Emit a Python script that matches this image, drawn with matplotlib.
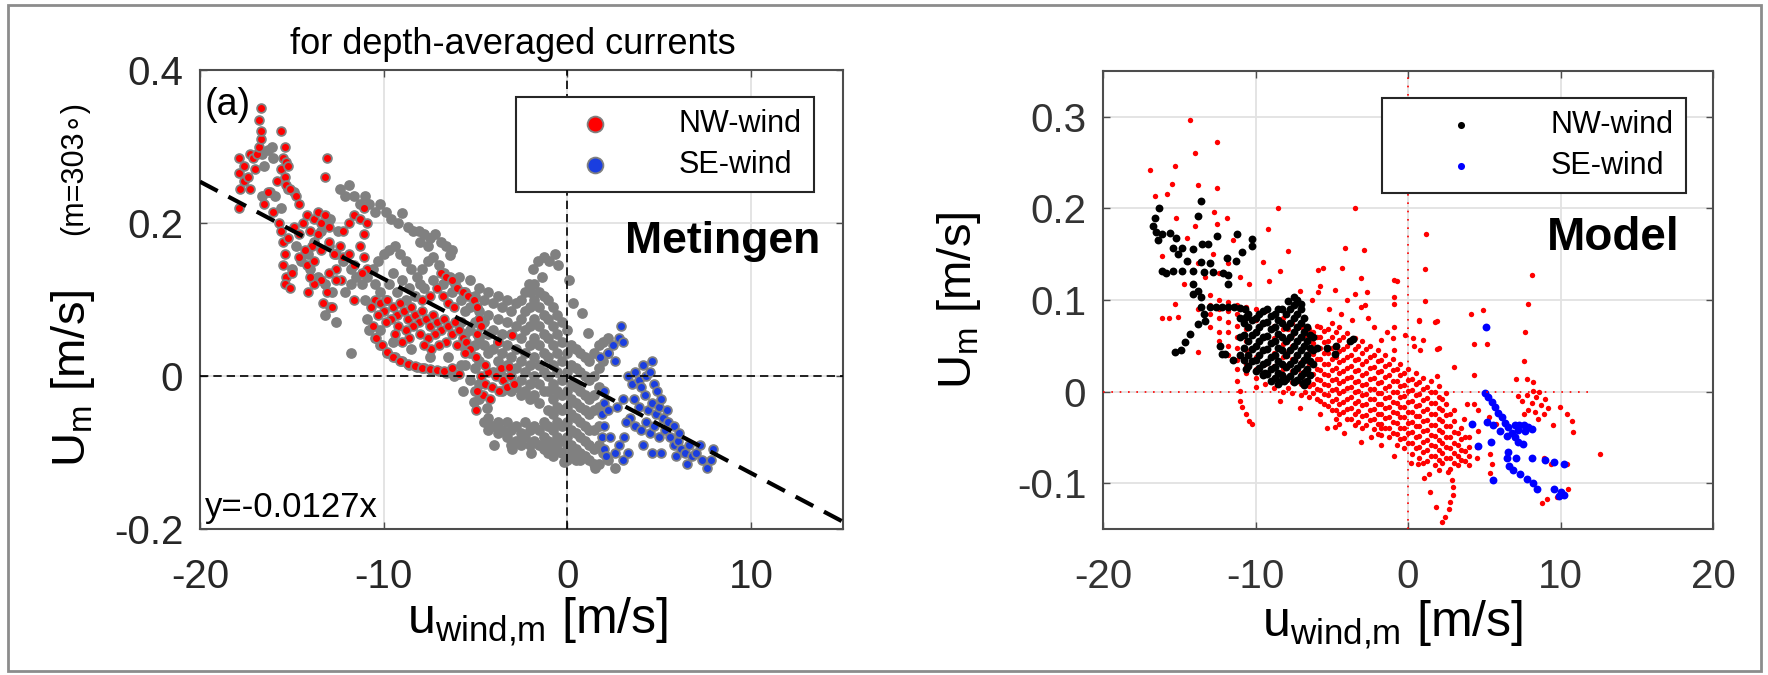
import numpy as np
import matplotlib
matplotlib.use('Agg')
import matplotlib.pyplot as plt
from matplotlib.patches import Rectangle

plt.rcParams['font.family'] = ['Liberation Sans', 'DejaVu Sans']
plt.rcParams['mathtext.default'] = 'regular'

W, H = 1768, 675

# ---------------- panel (a): measurements ----------------
# all measurements (grey), read off the picture
meas_grey = [
    (-16.6, 0.29), (-16.3, 0.295), (-16.1, 0.30), (-16.0, 0.285), (-16.5, 0.275), (-16.2, 0.24),
    (-15.9, 0.235), (-16.6, 0.235), (-15.6, 0.22), (-15.2, 0.245), (-14.9, 0.24),
    (-12.4, 0.245), (-12.1, 0.235), (-11.9, 0.25), (-11.6, 0.235), (-11.3, 0.225), (-11.0, 0.235),
    (-10.8, 0.225), (-10.5, 0.215), (-10.2, 0.225), (-9.9, 0.215), (-9.6, 0.205), (-9.2, 0.20),
    (-9.0, 0.213), (-8.7, 0.195), (-8.4, 0.19), (-8.1, 0.19), (-7.8, 0.185), (-7.5, 0.18),
    (-7.2, 0.185), (-6.9, 0.175), (-6.6, 0.17), (-6.3, 0.165), (-6.4, 0.158), (-8.0, 0.175), (-7.6, 0.17),
    (-13.0, 0.17), (-12.6, 0.16), (-12.2, 0.15), (-11.8, 0.14), (-11.5, 0.13), (-11.8, 0.12),
    (-12.1, 0.11), (-11.2, 0.12), (-10.9, 0.13), (-10.6, 0.14), (-10.3, 0.15), (-10.0, 0.16),
    (-9.7, 0.165), (-9.4, 0.17), (-9.1, 0.16), (-8.8, 0.15), (-8.5, 0.14), (-8.2, 0.13),
    (-7.9, 0.14), (-7.6, 0.15), (-7.3, 0.155), (-7.0, 0.145), (-6.7, 0.135), (-6.4, 0.13),
    (-6.1, 0.12), (-10.5, 0.12), (-10.2, 0.11), (-9.9, 0.10), (-11.0, 0.10), (-12.5, 0.19),
    (-12.9, 0.205), (-13.4, 0.19), (-13.8, 0.175), (-14.1, 0.16), (-14.5, 0.15), (-14.0, 0.14),
    (-13.6, 0.13), (-13.2, 0.12), (-12.8, 0.11), (-12.9, 0.09), (-13.2, 0.08), (-12.6, 0.07),
    (-11.8, 0.03), (-14.8, 0.17), (-15.0, 0.14), (-9.5, 0.135), (-9.0, 0.125), (-8.6, 0.115),
    (-9.3, 0.11), (-8.8, 0.10), (-8.3, 0.105), (-7.8, 0.115), (-7.3, 0.125), (-6.8, 0.12),
    (-6.3, 0.11), (-5.9, 0.13), (-8.0, 0.12), (-9.7, 0.12), (-9.5, 0.045), (-8.5, 0.035),
    (-7.5, 0.025), (-6.5, 0.025), (-5.8, 0.015), (-10.2, 0.06),
    (-10.8, 0.06), (-10.5, 0.05), (-10.2, 0.04), (-9.8, 0.03), (-9.4, 0.025), (-9.0, 0.02),
    (-8.6, 0.015), (-8.2, 0.012), (-7.8, 0.01), (-7.4, 0.008), (-7.0, 0.006), (-6.6, 0.004),
    (-6.2, 0.0), (-5.7, -0.02), (-5.1, -0.034), (-4.4, -0.042), (-10.9, 0.075),
    (-5.8, 0.10), (-5.8, 0.07), (-5.8, 0.04),
    (-5.55, 0.11), (-5.55, 0.085), (-5.55, 0.055), (-5.55, 0.015),
    (-5.3, 0.125), (-5.3, 0.09), (-5.3, 0.06), (-5.3, 0.03), (-5.3, -0.005),
    (-5.05, 0.105), (-5.05, 0.07), (-5.05, 0.04), (-5.05, 0.01), (-5.05, -0.02),
    (-4.8, 0.115), (-4.8, 0.085), (-4.8, 0.05), (-4.8, 0.02), (-4.8, -0.01), (-4.8, -0.03),
    (-4.55, 0.10), (-4.55, 0.07), (-4.55, 0.04), (-4.55, -0.06),
    (-4.3, 0.11), (-4.3, 0.08), (-4.3, 0.055), (-4.3, 0.03), (-4.3, -0.055), (-4.3, -0.07),
    (-4.05, 0.095), (-4.05, 0.06), (-4.05, 0.035), (-4.05, 0.005), (-4.05, -0.065),
    (-3.8, 0.105), (-3.8, 0.075), (-3.8, 0.045), (-3.8, 0.02), (-3.8, -0.06), (-3.8, -0.075),
    (-3.55, 0.09), (-3.55, 0.055), (-3.55, 0.03), (-3.55, 0.0), (-3.55, -0.02), (-3.55, -0.07),
    (-3.3, 0.10), (-3.3, 0.07), (-3.3, 0.04), (-3.3, 0.015), (-3.3, -0.06), (-3.3, -0.08),
    (-3.05, 0.085), (-3.05, 0.055), (-3.05, 0.025), (-3.05, 0.0), (-3.05, -0.02), (-3.05, -0.07),
    (-3.05, -0.09),
    (-2.8, 0.095), (-2.8, 0.065), (-2.8, 0.035), (-2.8, 0.01), (-2.8, -0.015), (-2.8, -0.065), (-2.8, -0.085),
    (-2.55, 0.10), (-2.55, 0.075), (-2.55, 0.05), (-2.55, 0.02), (-2.55, -0.005), (-2.55, -0.025),
    (-2.55, -0.075), (-2.55, -0.09),
    (-2.3, 0.11), (-2.3, 0.085), (-2.3, 0.06), (-2.3, 0.03), (-2.3, 0.005), (-2.3, -0.02), (-2.3, -0.06), (-2.3, -0.08),
    (-2.05, 0.11), (-2.05, 0.09), (-2.05, 0.065), (-2.05, 0.04), (-2.05, 0.015), (-2.05, -0.01),
    (-2.05, -0.03), (-2.05, -0.07), (-2.05, -0.09),
    (-1.8, 0.12), (-1.8, 0.10), (-1.8, 0.075), (-1.8, 0.05), (-1.8, 0.025), (-1.8, 0.0), (-1.8, -0.025),
    (-1.8, -0.065), (-1.8, -0.085),
    (-1.55, 0.11), (-1.55, 0.09), (-1.55, 0.065), (-1.55, 0.04), (-1.55, 0.015), (-1.55, -0.01),
    (-1.55, -0.035), (-1.55, -0.07), (-1.55, -0.09),
    (-1.3, 0.105), (-1.3, 0.08), (-1.3, 0.055), (-1.3, 0.03), (-1.3, 0.005), (-1.3, -0.02), (-1.3, -0.06),
    (-1.3, -0.08), (-1.3, -0.095),
    (-1.05, 0.10), (-1.05, 0.075), (-1.05, 0.05), (-1.05, 0.025), (-1.05, 0.0), (-1.05, -0.02),
    (-1.05, -0.045), (-1.05, -0.065), (-1.05, -0.085), (-1.05, -0.10),
    (-0.8, 0.09), (-0.8, 0.065), (-0.8, 0.04), (-0.8, 0.015), (-0.8, -0.01), (-0.8, -0.03), (-0.8, -0.05),
    (-0.8, -0.07), (-0.8, -0.09), (-0.8, -0.105),
    (-0.55, 0.08), (-0.55, 0.055), (-0.55, 0.03), (-0.55, 0.005), (-0.55, -0.02), (-0.55, -0.04),
    (-0.55, -0.06), (-0.55, -0.08), (-0.55, -0.095),
    (-0.3, 0.07), (-0.3, 0.045), (-0.3, 0.02), (-0.3, -0.005), (-0.3, -0.025), (-0.3, -0.045), (-0.3, -0.065),
    (-0.3, -0.085), (-0.3, -0.10),
    (-0.05, 0.06), (-0.05, 0.03), (-0.05, 0.005), (-0.05, -0.02), (-0.05, -0.04), (-0.05, -0.06),
    (-0.05, -0.08), (-0.05, -0.095), (-0.05, -0.11),
    (0.2, 0.04), (0.2, 0.015), (0.2, -0.01), (0.2, -0.03), (0.2, -0.05), (0.2, -0.07), (0.2, -0.09), (0.2, -0.105),
    (0.45, 0.035), (0.45, 0.01), (0.45, -0.015), (0.45, -0.035), (0.45, -0.055), (0.45, -0.075),
    (0.45, -0.095), (0.45, -0.11),
    (0.7, 0.03), (0.7, 0.005), (0.7, -0.02), (0.7, -0.04), (0.7, -0.06), (0.7, -0.08), (0.7, -0.10), (0.7, -0.11),
    (0.95, 0.025), (0.95, 0.0), (0.95, -0.025), (0.95, -0.045), (0.95, -0.065), (0.95, -0.085), (0.95, -0.105),
    (1.2, 0.02), (1.2, -0.005), (1.2, -0.03), (1.2, -0.05), (1.2, -0.07), (1.2, -0.09), (1.2, -0.11),
    (1.45, 0.03), (1.45, 0.0), (1.45, -0.025), (1.45, -0.045), (1.45, -0.07), (1.45, -0.095), (1.45, -0.115),
    (1.7, 0.04), (1.7, 0.01), (1.7, -0.015), (1.7, -0.04), (1.7, -0.065), (1.7, -0.09), (1.7, -0.115),
    (1.95, 0.045), (1.95, 0.02), (1.95, -0.10),
    (2.2, 0.05), (2.2, 0.03), (2.2, -0.11), (2.6, -0.12),
    (-2.1, 0.12), (-1.9, 0.14), (-1.6, 0.15), (-1.3, 0.155), (-1.0, 0.15), (-0.7, 0.16), (-0.5, 0.145),
    (-1.4, 0.13), (0.1, 0.125), (0.3, 0.095), (0.8, 0.082), (1.1, 0.056),
    (-4.0, -0.09), (-3.0, -0.095), (-2.0, -0.1), (-0.2, -0.112), (1.5, -0.12),
]

# NW-wind subset (red)
meas_nw = [
    (-17.9, 0.285), (-17.9, 0.265), (-17.8, 0.245), (-17.9, 0.22), (-17.6, 0.255), (-17.4, 0.26),
    (-17.3, 0.29), (-17.1, 0.285), (-16.9, 0.29), (-16.8, 0.30), (-16.7, 0.31), (-16.7, 0.32),
    (-16.8, 0.335), (-16.7, 0.35), (-17.3, 0.245), (-17.6, 0.275), (-17.0, 0.27), (-15.6, 0.32),
    (-15.4, 0.30), (-15.5, 0.285), (-15.3, 0.28), (-15.6, 0.27), (-15.2, 0.275), (-15.4, 0.26),
    (-15.3, 0.25), (-15.1, 0.245), (-14.8, 0.235), (-14.6, 0.225), (-15.8, 0.255), (-16.3, 0.24),
    (-16.0, 0.215), (-15.7, 0.20), (-16.5, 0.225), (-13.1, 0.285), (-13.2, 0.26),
    (-15.6, 0.19), (-15.5, 0.175), (-15.4, 0.16), (-15.5, 0.145), (-15.3, 0.13), (-15.4, 0.12),
    (-15.1, 0.115), (-15.0, 0.135), (-15.2, 0.18), (-14.9, 0.195), (-14.6, 0.185), (-14.4, 0.20),
    (-14.2, 0.21), (-14.0, 0.19), (-13.8, 0.205), (-13.6, 0.215), (-13.4, 0.20), (-13.2, 0.21),
    (-13.0, 0.195), (-13.6, 0.185), (-13.9, 0.17), (-14.3, 0.165), (-14.6, 0.155), (-14.2, 0.145),
    (-13.8, 0.15), (-13.4, 0.165), (-13.0, 0.175), (-12.7, 0.16), (-12.4, 0.17), (-12.2, 0.155),
    (-12.6, 0.14), (-13.0, 0.135), (-13.4, 0.125), (-13.8, 0.12), (-14.1, 0.11), (-14.0, 0.13),
    (-12.2, 0.19), (-11.9, 0.20), (-11.6, 0.21), (-11.3, 0.205), (-11.1, 0.22), (-10.9, 0.20),
    (-11.1, 0.185), (-11.3, 0.17), (-11.1, 0.155), (-10.9, 0.14), (-11.2, 0.135), (-11.6, 0.145),
    (-11.9, 0.16), (-12.3, 0.125), (-13.3, 0.095), (-13.1, 0.11), (-12.8, 0.09), (-11.6, 0.10), (-12.6, 0.125),
    (-10.5, 0.10), (-10.2, 0.095), (-10.0, 0.085), (-9.8, 0.10), (-9.5, 0.09), (-9.3, 0.08),
    (-9.6, 0.075), (-9.9, 0.07), (-9.1, 0.095), (-8.9, 0.085), (-8.7, 0.075), (-8.5, 0.09),
    (-8.3, 0.08), (-8.1, 0.07), (-8.4, 0.065), (-8.8, 0.06), (-9.2, 0.065), (-7.9, 0.085),
    (-7.7, 0.075), (-7.5, 0.065), (-7.3, 0.08), (-7.1, 0.07), (-6.9, 0.06), (-7.2, 0.055),
    (-7.6, 0.05), (-8.0, 0.055), (-6.7, 0.075), (-6.5, 0.065), (-6.3, 0.055), (-6.6, 0.045),
    (-7.0, 0.04), (-7.4, 0.035), (-6.1, 0.07), (-5.9, 0.06), (-5.7, 0.05), (-6.0, 0.04),
    (-5.5, 0.045), (-5.3, 0.035), (-5.6, 0.03), (-7.8, 0.04), (-8.6, 0.05), (-9.0, 0.045),
    (-10.3, 0.08), (-10.7, 0.09), (-9.4, 0.055), (-7.9, 0.10), (-7.5, 0.105), (-7.1, 0.115),
    (-6.8, 0.105), (-6.5, 0.095), (-6.2, 0.09), (-5.0, 0.025),
    (-10.6, 0.065), (-10.4, 0.05), (-10.1, 0.04), (-9.8, 0.032), (-9.5, 0.025), (-9.1, 0.02),
    (-8.7, 0.016), (-8.3, 0.013), (-7.9, 0.011), (-7.5, 0.009), (-7.1, 0.008), (-6.7, 0.006),
    (-6.3, 0.01), (-5.9, 0.002),
    (-6.9, 0.135), (-6.6, 0.13), (-6.3, 0.125), (-6.0, 0.115), (-5.7, 0.11), (-5.4, 0.105),
    (-5.1, 0.10), (-4.9, 0.09), (-4.8, 0.075), (-4.7, 0.065), (-4.9, 0.055), (-3.0, 0.053), (-3.8, 0.044),
    (-4.7, 0.0), (-4.5, -0.01), (-4.3, 0.005), (-4.1, -0.015), (-3.9, 0.0), (-3.7, -0.02),
    (-3.5, -0.005), (-3.3, -0.015), (-3.1, 0.0), (-2.9, -0.01), (-4.6, -0.025), (-4.2, -0.03),
    (-3.6, 0.01), (-3.2, 0.012), (-4.9, -0.02), (-5.0, -0.045), (-4.5, 0.015),
]

# SE-wind subset (blue)
meas_se = [
    (2.0, -0.02), (2.0, -0.035), (1.9, -0.05), (2.0, -0.065), (1.9, -0.08), (2.0, -0.095),
    (2.1, -0.105), (2.2, -0.045), (2.3, -0.08), (1.8, 0.025), (2.2, 0.03), (2.5, 0.04),
    (2.8, 0.05), (2.9, 0.065), (3.0, 0.045), (2.6, 0.02), (3.3, 0.0), (3.5, -0.01),
    (3.7, 0.005), (3.9, -0.005), (4.1, 0.015), (4.3, 0.0), (4.5, 0.005), (4.7, -0.01),
    (4.9, -0.02), (3.6, -0.03), (3.9, -0.04), (4.2, -0.025), (4.4, -0.045), (4.6, -0.035),
    (4.8, -0.05), (5.0, -0.04), (5.2, -0.055), (5.4, -0.045), (3.4, -0.055), (3.7, -0.065),
    (4.0, -0.07), (4.3, -0.06), (4.5, -0.075), (4.7, -0.065), (5.0, -0.08), (5.3, -0.07),
    (5.6, -0.08), (5.8, -0.09), (6.0, -0.085), (6.2, -0.095), (6.4, -0.10), (6.6, -0.09),
    (6.8, -0.105), (7.0, -0.10), (7.3, -0.11), (7.6, -0.12), (7.8, -0.11), (7.9, -0.095),
    (3.1, -0.08), (3.3, -0.10), (3.0, -0.11), (2.6, -0.10), (2.8, -0.09), (4.1, -0.09),
    (4.6, -0.10), (5.1, -0.10), (5.5, -0.06), (5.8, -0.065), (6.1, -0.075), (4.0, -0.015),
    (4.6, 0.02), (5.1, -0.03), (3.0, -0.03), (2.7, -0.04), (3.2, -0.06), (6.5, -0.115),
    (7.2, -0.09), (5.9, -0.105),
]

fit_slope = -0.0127
fit_range = [-20, 15]
meas_xticks = [-20, -10, 0, 10]
meas_xticklabels = ['-20', '-10', '0', '10']
meas_yticks = [-0.2, 0, 0.2, 0.4]
meas_yticklabels = ['-0.2', '0', '0.2', '0.4']

# ---------------- panel (b): model ----------------
# all model points (red)
model_all = [
    (-13.0, 0.105), (-13.0, 0.095), (-13.0, 0.085), (-13.0, 0.07),
    (-12.4, 0.10), (-12.4, 0.09), (-12.4, 0.08), (-12.4, 0.065), (-12.4, 0.055),
    (-11.8, 0.098), (-11.8, 0.088), (-11.8, 0.076), (-11.8, 0.065), (-11.8, 0.05), (-11.8, 0.04),
    (-11.2, 0.095), (-11.2, 0.085), (-11.2, 0.072), (-11.2, 0.06), (-11.2, 0.048), (-11.2, 0.035), (-11.2, 0.025),
    (-10.6, 0.092), (-10.6, 0.08), (-10.6, 0.068), (-10.6, 0.055), (-10.6, 0.045), (-10.6, 0.03), (-10.6, 0.02),
    (-10.0, 0.09), (-10.0, 0.078), (-10.0, 0.065), (-10.0, 0.05), (-10.0, 0.038), (-10.0, 0.025), (-10.0, 0.015),
    (-10.0, 0.005),
    (-9.4, 0.088), (-9.4, 0.075), (-9.4, 0.06), (-9.4, 0.045), (-9.4, 0.03), (-9.4, 0.018), (-9.4, 0.008),
    (-8.8, 0.085), (-8.8, 0.072), (-8.8, 0.058), (-8.8, 0.042), (-8.8, 0.028), (-8.8, 0.015), (-8.8, 0.004),
    (-8.2, 0.08), (-8.2, 0.068), (-8.2, 0.052), (-8.2, 0.038), (-8.2, 0.025), (-8.2, 0.012), (-8.2, 0.0),
    (-7.85, 0.068), (-7.85, 0.056), (-7.85, 0.043), (-7.85, 0.029), (-7.85, 0.016), (-7.85, 0.004),
    (-7.6, 0.075), (-7.6, 0.062), (-7.6, 0.05), (-7.6, 0.036), (-7.6, 0.022), (-7.6, 0.01), (-7.6, -0.002),
    (-7.0, 0.07), (-7.0, 0.058), (-7.0, 0.045), (-7.0, 0.032), (-7.0, 0.02), (-7.0, 0.008), (-7.0, -0.004),
    (-6.75, 0.062), (-6.75, 0.05), (-6.75, 0.037), (-6.75, 0.024), (-6.75, 0.012), (-6.75, 0.0),
    (-6.5, 0.068), (-6.5, 0.055), (-6.5, 0.042), (-6.5, 0.03), (-6.5, 0.018), (-6.5, 0.006), (-6.5, -0.006),
    (-6.25, 0.065), (-6.25, 0.053), (-6.25, 0.041), (-6.25, 0.03), (-6.25, 0.019), (-6.25, 0.008),
    (-6.25, -0.002),
    (-6.0, 0.072), (-6.0, 0.06), (-6.0, 0.048), (-6.0, 0.036), (-6.0, 0.025), (-6.0, 0.014), (-6.0, 0.003),
    (-6.0, -0.008),
    (-5.75, 0.07), (-5.75, 0.06), (-5.75, 0.048), (-5.75, 0.036), (-5.75, 0.024), (-5.75, 0.013),
    (-5.75, 0.002), (-5.75, -0.01),
    (-5.5, 0.066), (-5.5, 0.054), (-5.5, 0.042), (-5.5, 0.03), (-5.5, 0.019), (-5.5, 0.008), (-5.5, -0.003),
    (-5.5, -0.014),
    (-5.25, 0.068), (-5.25, 0.055), (-5.25, 0.042), (-5.25, 0.03), (-5.25, 0.018), (-5.25, 0.007),
    (-5.25, -0.004), (-5.25, -0.016),
    (-5.0, 0.075), (-5.0, 0.06), (-5.0, 0.048), (-5.0, 0.036), (-5.0, 0.024), (-5.0, 0.013), (-5.0, 0.002),
    (-5.0, -0.01), (-5.0, -0.02),
    (-4.75, 0.065), (-4.75, 0.05), (-4.75, 0.038), (-4.75, 0.026), (-4.75, 0.014), (-4.75, 0.003),
    (-4.75, -0.008), (-4.75, -0.02), (-4.75, -0.03),
    (-4.5, 0.07), (-4.5, 0.056), (-4.5, 0.044), (-4.5, 0.032), (-4.5, 0.02), (-4.5, 0.009), (-4.5, -0.002),
    (-4.5, -0.014), (-4.5, -0.025), (-4.5, -0.035),
    (-4.25, 0.06), (-4.25, 0.047), (-4.25, 0.035), (-4.25, 0.023), (-4.25, 0.012), (-4.25, 0.001),
    (-4.25, -0.011), (-4.25, -0.022),
    (-4.0, 0.064), (-4.0, 0.05), (-4.0, 0.038), (-4.0, 0.026), (-4.0, 0.015), (-4.0, 0.004), (-4.0, -0.008),
    (-4.0, -0.019), (-4.0, -0.03),
    (-3.75, 0.055), (-3.75, 0.04), (-3.75, 0.028), (-3.75, 0.016), (-3.75, 0.005), (-3.75, -0.006),
    (-3.75, -0.018), (-3.75, -0.03),
    (-3.5, 0.058), (-3.5, 0.046), (-3.5, 0.034), (-3.5, 0.022), (-3.5, 0.011), (-3.5, 0.0), (-3.5, -0.012),
    (-3.5, -0.024), (-3.5, -0.036),
    (-3.25, 0.05), (-3.25, 0.036), (-3.25, 0.024), (-3.25, 0.012), (-3.25, 0.001), (-3.25, -0.01),
    (-3.25, -0.021), (-3.25, -0.033),
    (-3.0, 0.055), (-3.0, 0.042), (-3.0, 0.03), (-3.0, 0.018), (-3.0, 0.007), (-3.0, -0.004), (-3.0, -0.015),
    (-3.0, -0.027), (-3.0, -0.04),
    (-2.75, 0.046), (-2.75, 0.033), (-2.75, 0.02), (-2.75, 0.008), (-2.75, -0.003), (-2.75, -0.014),
    (-2.75, -0.026), (-2.75, -0.037),
    (-2.5, 0.05), (-2.5, 0.038), (-2.5, 0.026), (-2.5, 0.014), (-2.5, 0.003), (-2.5, -0.008), (-2.5, -0.02),
    (-2.5, -0.031),
    (-2.25, 0.04), (-2.25, 0.027), (-2.25, 0.015), (-2.25, 0.003), (-2.25, -0.008), (-2.25, -0.019),
    (-2.25, -0.03), (-2.25, -0.041),
    (-2.0, 0.045), (-2.0, 0.033), (-2.0, 0.021), (-2.0, 0.009), (-2.0, -0.002), (-2.0, -0.013), (-2.0, -0.024),
    (-2.0, -0.035), (-2.0, -0.046),
    (-1.75, 0.035), (-1.75, 0.022), (-1.75, 0.01), (-1.75, -0.002), (-1.75, -0.013), (-1.75, -0.024),
    (-1.75, -0.035), (-1.75, -0.047),
    (-1.5, 0.04), (-1.5, 0.028), (-1.5, 0.016), (-1.5, 0.004), (-1.5, -0.007), (-1.5, -0.018), (-1.5, -0.029),
    (-1.5, -0.04),
    (-1.25, 0.03), (-1.25, 0.018), (-1.25, 0.006), (-1.25, -0.006), (-1.25, -0.017), (-1.25, -0.028),
    (-1.25, -0.04), (-1.25, -0.05),
    (-1.0, 0.036), (-1.0, 0.024), (-1.0, 0.012), (-1.0, 0.0), (-1.0, -0.011), (-1.0, -0.022), (-1.0, -0.033),
    (-1.0, -0.045),
    (-0.75, 0.025), (-0.75, 0.012), (-0.75, 0.0), (-0.75, -0.012), (-0.75, -0.023), (-0.75, -0.034),
    (-0.75, -0.046), (-0.75, -0.058),
    (-0.5, 0.03), (-0.5, 0.018), (-0.5, 0.006), (-0.5, -0.006), (-0.5, -0.017), (-0.5, -0.028), (-0.5, -0.04),
    (-0.5, -0.052),
    (-0.25, 0.02), (-0.25, 0.007), (-0.25, -0.005), (-0.25, -0.017), (-0.25, -0.028), (-0.25, -0.04),
    (-0.25, -0.051), (-0.25, -0.062),
    (0.0, 0.025), (0.0, 0.013), (0.0, 0.001), (0.0, -0.011), (0.0, -0.022), (0.0, -0.034), (0.0, -0.045),
    (0.0, -0.056),
    (0.25, 0.014), (0.25, 0.002), (0.25, -0.01), (0.25, -0.022), (0.25, -0.033), (0.25, -0.044),
    (0.25, -0.056), (0.25, -0.068),
    (0.5, 0.02), (0.5, 0.008), (0.5, -0.004), (0.5, -0.016), (0.5, -0.027), (0.5, -0.038), (0.5, -0.05),
    (0.5, -0.062),
    (0.75, 0.01), (0.75, -0.003), (0.75, -0.015), (0.75, -0.027), (0.75, -0.038), (0.75, -0.049),
    (0.75, -0.06), (0.75, -0.072),
    (1.0, 0.015), (1.0, 0.003), (1.0, -0.009), (1.0, -0.021), (1.0, -0.032), (1.0, -0.043), (1.0, -0.055),
    (1.0, -0.066), (1.0, -0.078),
    (1.25, 0.005), (1.25, -0.007), (1.25, -0.019), (1.25, -0.031), (1.25, -0.042), (1.25, -0.053),
    (1.25, -0.064), (1.25, -0.076),
    (1.5, 0.012), (1.5, 0.0), (1.5, -0.012), (1.5, -0.024), (1.5, -0.036), (1.5, -0.047), (1.5, -0.058),
    (1.5, -0.07),
    (1.75, 0.0), (1.75, -0.012), (1.75, -0.024), (1.75, -0.036), (1.75, -0.048), (1.75, -0.059),
    (1.75, -0.07), (1.75, -0.08),
    (2.0, 0.006), (2.0, -0.006), (2.0, -0.018), (2.0, -0.03), (2.0, -0.042), (2.0, -0.053), (2.0, -0.064),
    (2.0, -0.075), (2.0, -0.086),
    (2.25, -0.008), (2.25, -0.02), (2.25, -0.032), (2.25, -0.044), (2.25, -0.056), (2.25, -0.067),
    (2.25, -0.078),
    (2.5, -0.002), (2.5, -0.014), (2.5, -0.026), (2.5, -0.038), (2.5, -0.05), (2.5, -0.061), (2.5, -0.072),
    (2.75, -0.025), (2.75, -0.038), (2.75, -0.05), (2.75, -0.062), (2.75, -0.073), (2.75, -0.084),
    (3.0, -0.02), (3.0, -0.032), (3.0, -0.044), (3.0, -0.056), (3.0, -0.067), (3.0, -0.078),
    (3.25, -0.045), (3.25, -0.058), (3.25, -0.07), (3.25, -0.08),
    (3.5, -0.04), (3.5, -0.052), (3.5, -0.064), (3.5, -0.075),
    (3.75, -0.05), (3.75, -0.065), (3.75, -0.076),
    (4.0, -0.05), (4.0, -0.06), (4.0, -0.07), (4.0, -0.08), (4.5, -0.06), (4.5, -0.072),
    # scattered points
    (-14.3, 0.296), (-12.5, 0.272), (-14.0, 0.26), (-16.9, 0.242), (-15.3, 0.246), (-15.5, 0.227),
    (-13.8, 0.226), (-12.5, 0.222), (-16.6, 0.214), (-15.8, 0.216), (-8.5, 0.20), (-12.7, 0.196),
    (-15.2, 0.19), (-11.9, 0.189), (-12.5, 0.183), (-14.0, 0.181), (-9.2, 0.178), (-4.1, 0.157),
    (-7.9, 0.153), (-11.5, 0.165), (-9.5, 0.142), (-8.4, 0.132), (-5.6, 0.135), (-4.3, 0.135),
    (-9.1, 0.121), (-7.1, 0.11), (-5.9, 0.109), (-4.8, 0.111), (-14.5, 0.168), (-16.1, 0.148),
    (-14.4, 0.141), (-3.5, 0.20), (-2.9, 0.155), (-3.1, 0.124), (-0.9, 0.122), (-3.5, 0.107),
    (-2.7, 0.109), (-0.9, 0.096), (-3.1, 0.092), (-2.6, 0.08), (0.7, 0.077), (1.9, 0.077),
    (1.1, 0.099), (1.2, 0.172), (1.1, 0.134), (-1.0, 0.059), (-0.9, 0.045), (0.3, 0.058),
    (0.8, 0.045), (2.0, 0.048), (1.9, 0.017), (-1.8, 0.056), (-15.3, 0.096), (-15.1, 0.081),
    (-13.8, 0.043), (-13.8, 0.09), (-11.0, 0.001), (-11.0, -0.01), (-10.9, -0.017), (-10.6, -0.024),
    (-10.4, -0.032), (-10.2, -0.035), (-11.2, 0.012),
    (8.1, 0.127), (7.9, 0.096), (7.7, 0.065), (7.6, 0.033), (7.1, 0.014), (7.8, 0.014), (8.2, 0.01),
    (8.2, 0.001), (4.1, 0.085), (4.9, 0.089), (5.2, 0.052), (4.3, 0.052), (4.3, 0.018), (1.9, 0.047),
    (1.8, 0.076), (3.0, 0.027), (-0.9, 0.071), (-0.9, 0.103), (0.7, 0.078), (1.0, 0.056),
    (2.64, -0.088), (2.87, -0.097), (2.97, -0.104), (2.93, -0.113), (2.75, -0.121), (2.71, -0.128),
    (2.43, -0.137), (2.25, -0.142), (1.44, -0.11), (1.84, -0.126), (1.05, -0.094), (0.66, -0.079),
    (9.97, -0.017), (10.4, -0.024), (10.75, -0.032), (10.8, -0.044), (9.5, -0.037), (12.6, -0.068),
    (8.8, -0.122), (9.1, -0.117), (9.8, -0.115), (10.4, -0.079), (10.5, -0.106),
    (3.7, -0.03), (4.6, -0.043), (5.4, -0.068), (5.5, -0.079), (5.4, -0.089), (4.3, -0.013),
    (8.9, -0.073), (9.4, -0.079), (3.9, -0.013), (4.6, -0.02), (5.3, -0.028), (5.8, -0.035),
    (7.2, -0.005), (7.5, -0.01), (7.8, -0.004), (8.1, -0.012), (8.4, -0.006), (8.7, -0.015),
    (8.3, -0.022), (8.9, -0.025), (8.6, 0.0), (9.0, -0.008), (7.9, -0.02), (8.5, -0.03),
    (7.6, -0.025), (9.2, -0.018),
    (-5.2, 0.09), (-4.4, 0.085), (-3.7, 0.078), (-2.2, 0.07), (-1.4, 0.065), (-0.2, 0.062),
    (0.4, 0.05), (-2.8, 0.095), (-6.3, 0.10), (-5.8, 0.115), (-4.0, 0.10),
    (-8.4, -0.01), (-7.1, -0.018), (-5.8, -0.025), (-4.2, -0.045), (-3.1, -0.055), (-1.8, -0.058),
    (-0.9, -0.07), (0.2, -0.078), (1.4, -0.09), (-5.3, -0.04), (-2.4, -0.05), (-4.8, -0.039),
    (-1.8, -0.04), (-0.7, 0.121), (-5.9, 0.133),
    (-13.3, 0.125), (-12.4, 0.13), (-11.8, 0.14), (-11.0, 0.125), (-10.4, 0.118), (-12.8, 0.15),
    (-13.8, 0.14), (-14.7, 0.117), (-15.7, 0.08), (-16.1, 0.08),
]

# NW-wind subset (black)
model_nw = [
    (-13.6, 0.208), (-16.3, 0.20), (-16.6, 0.189), (-16.7, 0.181), (-16.5, 0.174), (-16.4, 0.165),
    (-13.8, 0.192), (-16.1, 0.172), (-15.6, 0.173), (-15.2, 0.168), (-15.4, 0.157), (-15.1, 0.15),
    (-14.8, 0.157), (-14.5, 0.143), (-14.1, 0.156), (-13.5, 0.161), (-13.1, 0.161), (-12.5, 0.17),
    (-11.2, 0.172), (-10.2, 0.167), (-10.2, 0.159), (-10.9, 0.152), (-11.3, 0.143), (-11.9, 0.146),
    (-13.0, 0.14), (-13.6, 0.141), (-16.1, 0.132), (-15.9, 0.129), (-15.4, 0.132), (-14.8, 0.132),
    (-14.1, 0.132), (-13.4, 0.131), (-12.8, 0.131), (-12.1, 0.13), (-11.8, 0.127), (-11.8, 0.118),
    (-14.1, 0.118), (-13.8, 0.11), (-13.6, 0.103), (-7.5, 0.103),
    (-14.1, 0.107), (-13.6, 0.092), (-13.4, 0.085), (-13.0, 0.092), (-12.6, 0.092), (-12.2, 0.092),
    (-11.8, 0.092), (-11.4, 0.092), (-11.0, 0.091), (-10.7, 0.09),
    (-13.8, 0.074), (-14.3, 0.063), (-14.6, 0.054), (-14.9, 0.045), (-15.3, 0.043), (-13.3, 0.077),
    (-12.3, 0.05), (-12.2, 0.041), (-12.0, 0.041), (-11.5, 0.034), (-10.6, 0.025), (-9.5, 0.019),
    (-8.3, 0.012), (-6.9, 0.009),
    (-6.0, 0.048), (-5.3, 0.048), (-4.7, 0.05), (-3.8, 0.055), (-3.6, 0.057), (-4.8, 0.041),
    (-7.0, 0.096), (-7.9, 0.099), (-10.6, 0.081),
    (-11.0, 0.08), (-11.0, 0.06), (-11.0, 0.04),
    (-10.75, 0.075), (-10.75, 0.062), (-10.75, 0.048), (-10.75, 0.035),
    (-10.5, 0.085), (-10.5, 0.07), (-10.5, 0.055), (-10.5, 0.04), (-10.5, 0.028),
    (-10.25, 0.078), (-10.25, 0.062), (-10.25, 0.047), (-10.25, 0.033),
    (-10.0, 0.08), (-10.0, 0.065), (-10.0, 0.05), (-10.0, 0.035), (-10.0, 0.022),
    (-9.75, 0.085), (-9.75, 0.07), (-9.75, 0.055), (-9.75, 0.04), (-9.75, 0.026),
    (-9.5, 0.088), (-9.5, 0.075), (-9.5, 0.06), (-9.5, 0.045), (-9.5, 0.03), (-9.5, 0.018),
    (-9.25, 0.09), (-9.25, 0.076), (-9.25, 0.061), (-9.25, 0.046), (-9.25, 0.032), (-9.25, 0.019),
    (-9.0, 0.082), (-9.0, 0.068), (-9.0, 0.053), (-9.0, 0.038), (-9.0, 0.025), (-9.0, 0.012),
    (-8.75, 0.085), (-8.75, 0.07), (-8.75, 0.055), (-8.75, 0.04), (-8.75, 0.027), (-8.75, 0.015),
    (-8.5, 0.09), (-8.5, 0.078), (-8.5, 0.063), (-8.5, 0.048), (-8.5, 0.033), (-8.5, 0.02), (-8.5, 0.008),
    (-8.25, 0.09), (-8.25, 0.075), (-8.25, 0.06), (-8.25, 0.045), (-8.25, 0.03), (-8.25, 0.018),
    (-8.0, 0.085), (-8.0, 0.07), (-8.0, 0.055), (-8.0, 0.04), (-8.0, 0.027), (-8.0, 0.014),
    (-7.75, 0.09), (-7.75, 0.075), (-7.75, 0.06), (-7.75, 0.045), (-7.75, 0.03), (-7.75, 0.017),
    (-7.5, 0.095), (-7.5, 0.08), (-7.5, 0.065), (-7.5, 0.05), (-7.5, 0.035), (-7.5, 0.022), (-7.5, 0.01),
    (-7.25, 0.10), (-7.25, 0.085), (-7.25, 0.07), (-7.25, 0.055), (-7.25, 0.04), (-7.25, 0.026),
    (-7.25, 0.013),
    (-7.0, 0.09), (-7.0, 0.075), (-7.0, 0.06), (-7.0, 0.045), (-7.0, 0.03), (-7.0, 0.017),
    (-6.8, 0.08), (-6.8, 0.065), (-6.8, 0.05), (-6.8, 0.035), (-6.8, 0.02),
    (-6.6, 0.07), (-6.6, 0.055), (-6.6, 0.04), (-6.6, 0.025), (-6.6, 0.012),
    (-6.4, 0.062), (-6.4, 0.048), (-6.4, 0.033), (-6.4, 0.018),
    (-6.2, 0.06), (-6.2, 0.045), (-6.2, 0.03), (-6.8, 0.007), (-8.1, 0.012), (-9.4, 0.02),
]

# SE-wind subset (blue)
model_se = [
    (5.1, 0.071),
    (5.05, -0.001), (5.25, -0.006), (5.5, -0.011), (5.7, -0.017), (5.9, -0.023), (6.15, -0.028),
    (6.35, -0.034), (6.55, -0.039), (6.8, -0.045), (7.0, -0.05), (7.2, -0.055), (7.55, -0.057),
    (4.2, -0.035), (5.2, -0.033), (5.6, -0.037), (6.0, -0.043), (6.5, -0.048),
    (7.0, -0.036), (7.3, -0.036), (7.6, -0.037), (7.9, -0.039), (8.1, -0.041), (7.2, -0.042), (7.7, -0.043),
    (6.56, -0.066), (6.5, -0.073), (6.6, -0.081), (6.9, -0.086), (7.35, -0.09), (7.8, -0.095),
    (8.2, -0.10), (8.45, -0.106), (9.6, -0.106), (10.0, -0.11), (10.2, -0.113), (9.9, -0.114),
    (8.1, -0.073), (9.0, -0.075), (9.6, -0.077), (10.2, -0.079),
    (4.6, -0.059), (5.45, -0.055), (5.55, -0.096), (7.1, -0.072),
]

model_xticks = [-20, -10, 0, 10, 20]
model_xticklabels = ['-20', '-10', '0', '10', '20']
model_yticks = [-0.1, 0, 0.1, 0.2, 0.3]
model_yticklabels = ['-0.1', '0', '0.1', '0.2', '0.3']
model_zero_line_end = 12


def fx(px):
    return px / W


def fy(py):
    return 1 - py / H


def matlab_style(ax, xticks, xlabels, yticks, ylabels, labelcolor):
    ax.set_xticks(xticks)
    ax.set_xticklabels(xlabels)
    ax.set_yticks(yticks)
    ax.set_yticklabels(ylabels)
    ax.tick_params(direction='in', length=5, width=1, top=True, right=True,
                   labelsize=29, labelcolor=labelcolor, color='#4d4d4d')
    ax.tick_params(axis='x', pad=21)
    ax.tick_params(axis='y', pad=12)
    ax.grid(True, color='#e2e2e2', lw=1.3)
    ax.set_axisbelow(True)
    for sp in ax.spines.values():
        sp.set_color('#4d4d4d')
        sp.set_linewidth(1.5)


fig = plt.figure(figsize=(W / 100, H / 100), dpi=100)

# ---- left panel ----
ax1 = fig.add_axes([fx(200), fy(529), fx(843) - fx(200), fy(70) - fy(529)])
g = np.array(meas_grey)
nw = np.array(meas_nw)
se = np.array(meas_se)
ax1.scatter(g[:, 0], g[:, 1], s=60, c='#808080', linewidths=0, zorder=2)
ax1.scatter(nw[:, 0], nw[:, 1], s=40, c='#ff0000', edgecolors='#808080', linewidths=1.3,
            zorder=3, label='NW-wind')
ax1.scatter(se[:, 0], se[:, 1], s=40, c='#1a3ee0', edgecolors='#808080', linewidths=1.3,
            zorder=3, label='SE-wind')
ax1.axhline(0, color='k', lw=1.2, ls=(0, (5, 3)), zorder=4)
ax1.axvline(0, color='k', lw=1.2, ls=(0, (5, 3)), zorder=4)
fit_x = np.array(fit_range)
ax1.plot(fit_x, fit_slope * fit_x, color='k', lw=3, dashes=(4.8, 2.9), zorder=5)
ax1.set_xlim(-20, 15)
ax1.set_ylim(-0.2, 0.4)
matlab_style(ax1, meas_xticks, meas_xticklabels, meas_yticks, meas_yticklabels, '#262626')

leg1 = ax1.legend(loc='upper right', bbox_to_anchor=(fx(814), fy(97)), bbox_transform=fig.transFigure,
                  borderaxespad=0, fontsize=22, markerscale=1.8, scatterpoints=1,
                  handlelength=4.37, handletextpad=0.56, borderpad=0.4, labelspacing=0.35,
                  fancybox=False, edgecolor='#262626', framealpha=1)
leg1.get_frame().set_linewidth(1.5)

# ---- right panel ----
ax2 = fig.add_axes([fx(1103), fy(529), fx(1713) - fx(1103), fy(71) - fy(529)])
ma = np.array(model_all)
mn = np.array(model_nw)
ms = np.array(model_se)
ax2.scatter(ma[:, 0], ma[:, 1], s=15, c='#ff0000', linewidths=0, zorder=2)
ax2.scatter(mn[:, 0], mn[:, 1], s=32, c='k', linewidths=0, zorder=3, label='NW-wind')
ax2.scatter(ms[:, 0], ms[:, 1], s=32, c='#0000ff', linewidths=0, zorder=4, label='SE-wind')
ax2.axvline(0, color='#ff0000', lw=1.2, ls=(0, (1, 4)), zorder=5)
ax2.plot([-20, model_zero_line_end], [0, 0], color='#ff0000', lw=1.2, ls=(0, (1, 4)), zorder=5)
ax2.set_xlim(-20, 20)
ax2.set_ylim(-0.15, 0.35)
matlab_style(ax2, model_xticks, model_xticklabels, model_yticks, model_yticklabels, '#333333')

leg2 = ax2.legend(loc='upper right', bbox_to_anchor=(fx(1686), fy(98)), bbox_transform=fig.transFigure,
                  borderaxespad=0, fontsize=22, markerscale=0.9, scatterpoints=1,
                  handlelength=4.37, handletextpad=0.75, borderpad=0.4, labelspacing=0.35,
                  fancybox=False, edgecolor='#262626', framealpha=1)
leg2.get_frame().set_linewidth(1.5)

# ---- texts ----
fig.text(fx(513), fy(54), 'for depth-averaged currents', fontsize=26, ha='center', va='baseline')
fig.text(fx(205), fy(87), '(a)', fontsize=27, ha='left', va='top')
fig.text(fx(205), fy(517), 'y=-0.0127x', fontsize=25, ha='left', va='baseline')
fig.text(fx(820), fy(253), 'Metingen', fontsize=32, fontweight='bold', ha='right', va='baseline')
fig.text(fx(1679), fy(250), 'Model', fontsize=33, fontweight='bold', ha='right', va='baseline')

fig.text(fx(538), fy(633), r'$u_{wind{,}m}$ [m/s]', fontsize=36, ha='center', va='baseline')
fig.text(fx(1393), fy(636), r'$u_{wind{,}m}$ [m/s]', fontsize=36, ha='center', va='baseline')
fig.text(fx(73), fy(378), r'$U_m$ [m/s]', fontsize=34, rotation=90, ha='center', va='center')
fig.text(fx(74), fy(168), '(m=303\u2218)', fontsize=22, rotation=90, ha='center', va='center')
fig.text(fx(959), fy(300), r'$U_m$ [m/s]', fontsize=34, rotation=90, ha='center', va='center')

# grey frame around the whole picture
fig.add_artist(Rectangle((fx(8), fy(671)), fx(1761) - fx(8), fy(5) - fy(671),
                         transform=fig.transFigure, fill=False, edgecolor='#8c8c8c', lw=2))

fig.savefig('out.png', dpi=100)
